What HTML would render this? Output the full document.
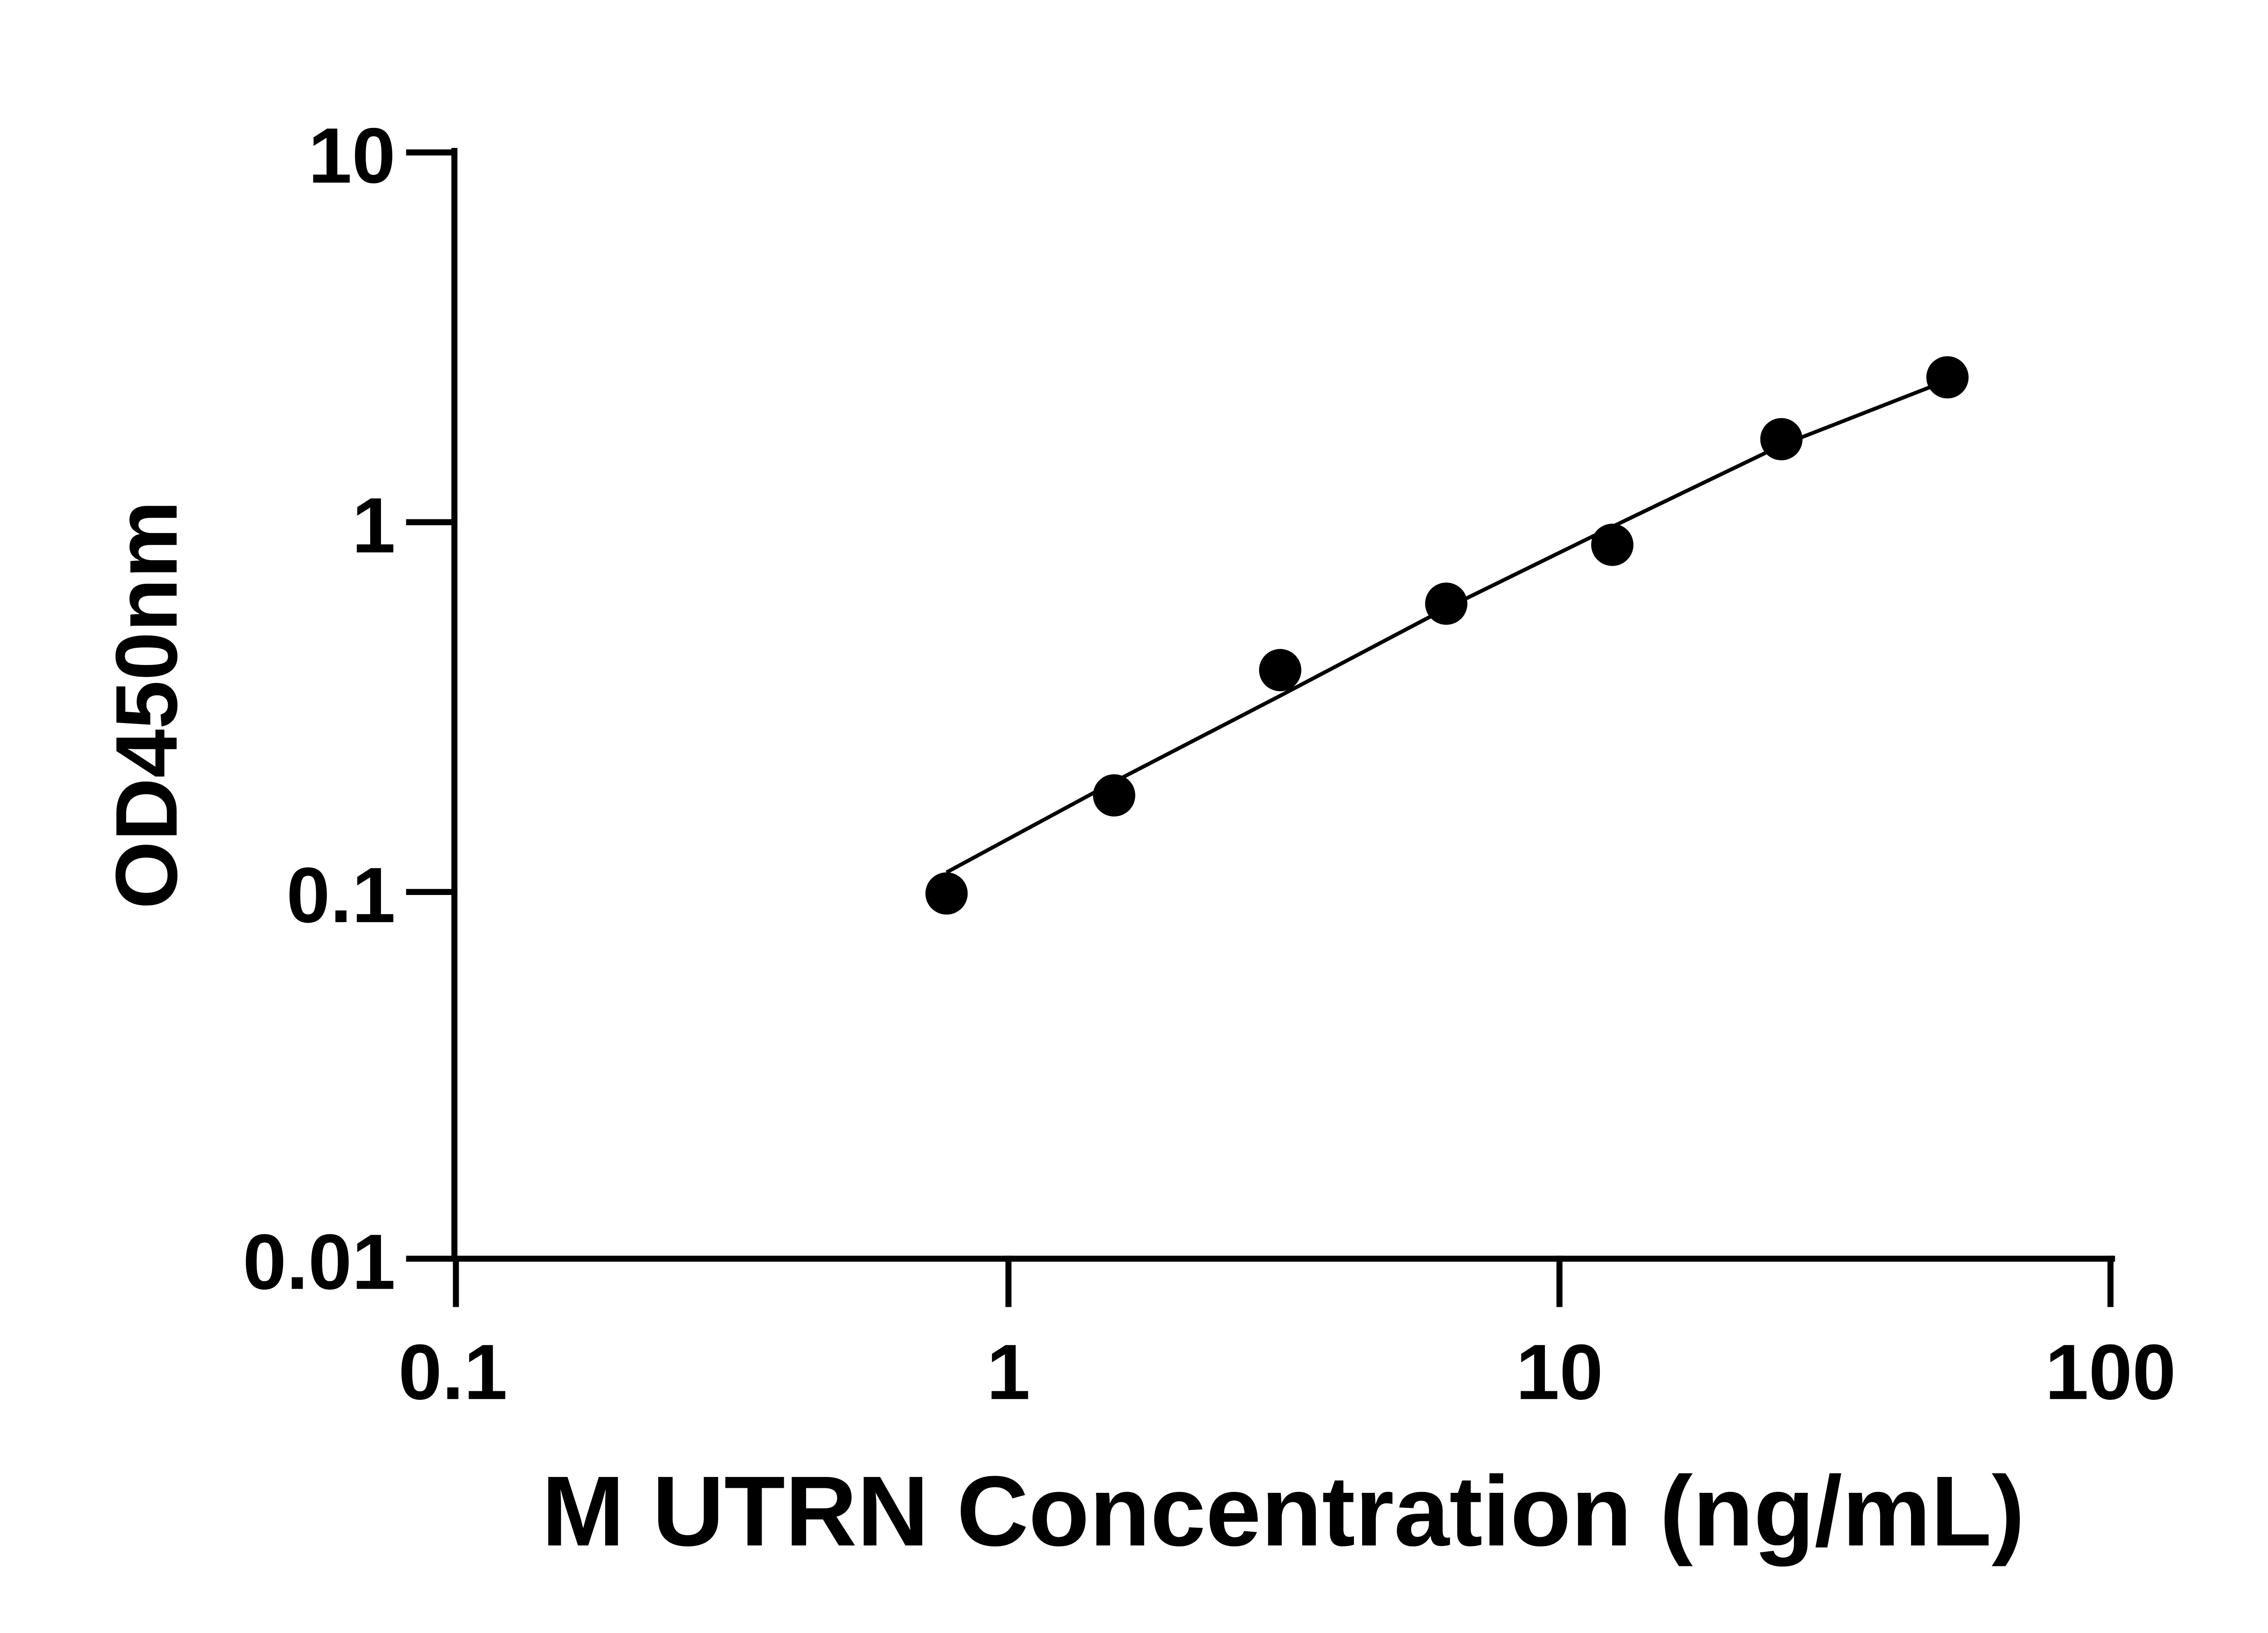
<!DOCTYPE html>
<html><head><meta charset="utf-8"><style>html,body{margin:0;padding:0;background:#fff}svg{display:block}</style></head>
<body>
<svg width="5142" height="3600" viewBox="0 0 1545 1082" preserveAspectRatio="none" xmlns="http://www.w3.org/2000/svg">
<rect width="1545" height="1082" fill="#fff"/>
<g stroke="#000" stroke-width="4" fill="none" stroke-linecap="square">
<line x1="301" y1="100" x2="301" y2="834"/>
<line x1="301" y1="834" x2="1399" y2="834"/>
<line x1="271" y1="101" x2="301" y2="101"/>
<line x1="271" y1="346" x2="301" y2="346"/>
<line x1="271" y1="591" x2="301" y2="591"/>
<line x1="271" y1="834" x2="301" y2="834"/>
<line x1="302" y1="834" x2="302" y2="864"/>
<line x1="668" y1="834" x2="668" y2="864"/>
<line x1="1033" y1="834" x2="1033" y2="864"/>
<line x1="1398" y1="834" x2="1398" y2="864"/>
</g>
<polyline fill="none" stroke="#000" stroke-width="2.5" points="627,578 738,518 848,461 958,403 1068,349 1180,295 1290,252"/>
<g fill="#000">
<circle cx="627" cy="592" r="14"/>
<circle cx="738" cy="527" r="14"/>
<circle cx="848" cy="444" r="14"/>
<circle cx="958" cy="400" r="14"/>
<circle cx="1068" cy="361" r="14"/>
<circle cx="1180" cy="291" r="14"/>
<circle cx="1290" cy="250" r="14"/>
</g>
<g font-family="Liberation Sans, sans-serif" font-weight="bold" font-size="52" fill="#000">
<g text-anchor="end">
<text x="262" y="121">10</text>
<text x="262" y="366">1</text>
<text x="262" y="611">0.1</text>
<text x="262" y="854">0.01</text>
</g>
<g text-anchor="middle">
<text x="300" y="927">0.1</text>
<text x="668" y="927">1</text>
<text x="1033" y="927">10</text>
<text x="1398" y="927">100</text>
</g>
<text x="850" y="1024" text-anchor="middle" font-size="66">M UTRN Concentration (ng/mL)</text>
<text transform="translate(117,467) rotate(-90)" text-anchor="middle" font-size="58">OD450nm</text>
</g>
</svg>
</body></html>
